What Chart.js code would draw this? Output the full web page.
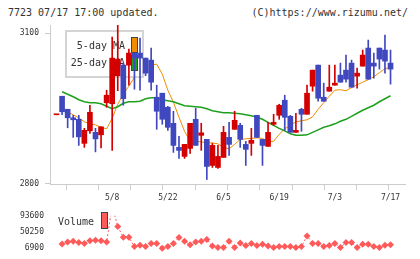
<!DOCTYPE html>
<html>
<head>
<meta charset="utf-8">
<script src="https://cdn.jsdelivr.net/npm/chart.js@4"></script>
<style>
body{margin:0;background:#fff}
#wrap{position:relative;width:420px;height:259px;overflow:hidden;background:#fff;font-family:"DejaVu Sans Mono",monospace;color:#333}
.hdr{position:absolute;top:7px;font-size:10px;line-height:11px;white-space:pre}
canvas{position:absolute;left:0}
</style>
</head>
<body>
<div id="wrap">
<div class="hdr" style="left:8px">7723 07/17 17:00 updated.</div>
<div class="hdr" style="right:12px">(C)https://www.rizumu.net/</div>
<canvas id="main" width="420" height="205" style="top:0"></canvas>
<canvas id="vol" width="420" height="54" style="top:205px"></canvas>
</div>
<script>
// trading days
var dates=['4/21','4/22','4/23','4/24','4/25','4/28','4/30','5/1','5/2','5/7',
 '5/8','5/9','5/12','5/13','5/14','5/15','5/16','5/19','5/20','5/21',
 '5/22','5/23','5/26','5/27','5/28','5/29','5/30','6/2','6/3','6/4',
 '6/5','6/6','6/9','6/10','6/11','6/12','6/13','6/16','6/17','6/18',
 '6/19','6/20','6/23','6/24','6/25','6/26','6/27','6/30','7/1','7/2',
 '7/3','7/4','7/7','7/8','7/9','7/10','7/11','7/14','7/15','7/16','7/17'];

var open =[2937,2974,2948,2931,2928,2880,2905,2902,2897,2961,2959,3015,3036,3036,3060,3060,3050,3046,2972,2980,
 2952,2920,2872,2854,2870,2928,2896,2888,2836,2832,2852,2892,2908,2916,2878,2880,2936,2888,2874,2918,
 2936,2966,2934,2902,2948,2938,2994,3036,2972,2984,2996,3016,3026,3040,3014,3034,3070,3040,3070,3066,3040];
var high =[2937,2974,2948,2936,2936,2910,2956,2910,2913,2986,3092,3120,3040,3068,3060,3090,3050,3070,2996,2980,
 2954,2944,2894,2878,2920,2950,2920,2888,2880,2876,2914,2922,2944,2920,2884,2910,2936,2888,2922,2938,
 2958,2976,2936,2940,2950,2996,3026,3036,3000,3036,3036,3040,3056,3046,3030,3066,3086,3060,3070,3096,3066];
var low  =[2937,2937,2911,2892,2876,2872,2900,2863,2871,2952,2866,2985,2956,2996,2988,2986,3015,2986,2908,2918,
 2906,2862,2850,2850,2860,2876,2866,2808,2832,2830,2852,2856,2908,2872,2836,2856,2892,2836,2874,2916,
 2928,2906,2902,2902,2904,2938,2984,2964,2964,2984,2996,3002,3002,2992,2990,3034,3008,3010,3028,3020,2998];
var close=[2937,2943,2931,2927,2893,2906,2942,2889,2913,2976,3050,3048,2969,3060,3050,3050,3020,3002,2944,2928,
 2912,2876,2866,2878,2920,2876,2901,2834,2876,2854,2902,2878,2926,2888,2868,2886,2892,2876,2902,2922,
 2956,2932,2902,2906,2938,2980,3026,2970,2964,2992,3000,3002,3008,2992,3020,3056,3008,3034,3048,3044,3028];

var ma5=[null,2947,2943,2937,2931,2923,2919,2917,2912,2909,2930,2958,2978,2994,3012,3026,3032,3036,3038,3018,2986,
 2962,2932,2904,2885,2884,2883,2881,2881,2879,2872,2869,2878,2888,2889,2890,2891,2890,2884,2884,2898,
 2909,2916,2923,2925,2927,2933,2948,2961,2974,2986,2987,2985,2991,2997,3002,3007,3013,3021,3029,3031];
var ma25=[null,2983,2978,2973,2967,2963,2961,2961,2959,2954,2949,2953,2960,2963,2963,2964,2969,2971,2971,2967,2965,
 2963,2959,2955,2954,2953,2952,2949,2945,2943,2941,2941,2940,2939,2937,2935,2932,2928,2922,2916,2910,
 2905,2899,2896,2896,2897,2902,2907,2912,2915,2919,2924,2928,2934,2940,2946,2951,2956,2963,2969,2975];

var volume=[null,18300,23200,25400,22000,19800,26900,28400,26900,23200,120000,65000,36200,36200,11200,14600,11200,19800,19800,6900,
 11200,19800,35500,25400,16100,23200,25400,30500,12500,9000,9000,25400,9000,21100,14000,19800,14000,17700,12500,9000,
 11200,11200,11200,9000,11200,39800,19800,19800,11200,14000,19800,9000,22000,22000,9000,17700,17700,11200,9000,14600,16100];

var priceTicks=[2800,3100];
var volTicks=[6900,50250,93600];
var dateTicks=[10,20,30,40,50,60];

var RED='#d40000', BLUE='#4048c0', ORANGE='#f08c00', GREEN='#1ea01e', PINK='#ff5a5a';
var xmin=-1.17, xmax=62.6;

Chart.defaults.font.family='"DejaVu Sans Mono", monospace';
Chart.defaults.color='#333';

var candleColors=open.map(function(o,i){ return close[i]>=o ? RED : BLUE; });
var wickData=dates.map(function(d,i){ return {x:i, y:[low[i],high[i]]}; });
var bodyData=dates.map(function(d,i){ return {x:i, y:[Math.min(open[i],close[i]),Math.max(open[i],close[i])]}; });

// legend box sits between the MA lines and the candles
var legendBox={
  id:'legendBox',
  beforeDatasetDraw:function(chart,args){
    if(args.meta.label!=='wick') return;
    var ctx=chart.ctx;
    ctx.save();
    ctx.fillStyle='#fff';
    ctx.fillRect(65,30,78,47);
    ctx.strokeStyle='#d4d4d4';
    ctx.lineWidth=2;
    ctx.strokeRect(66,31,77,46);
    ctx.font='10px "DejaVu Sans Mono"';
    ctx.fillStyle='#333';
    ctx.textAlign='right';
    ctx.textBaseline='middle';
    ctx.fillText('5-day MA',125,46);
    ctx.fillText('25-day MA',125,63);
    ctx.lineWidth=1;
    ctx.strokeStyle='#444';
    ctx.fillStyle=ORANGE;
    ctx.fillRect(132,37,5,16); ctx.strokeRect(131.5,37.5,6,15);
    ctx.fillStyle=GREEN;
    ctx.fillRect(132,55,5,15); ctx.strokeRect(131.5,55.5,6,15);
    ctx.restore();
  }
};

new Chart(document.getElementById('main'),{
  type:'bar',
  data:{datasets:[
    {label:'5-day MA',type:'line',data:ma5.map(function(v,i){return {x:i,y:v};}),borderColor:ORANGE,borderWidth:1,pointRadius:0,tension:0,order:3},
    {label:'25-day MA',type:'line',data:ma25.map(function(v,i){return {x:i,y:v};}),borderColor:GREEN,borderWidth:1.5,pointRadius:0,tension:0,order:2},
    {label:'wick',data:wickData,backgroundColor:candleColors,barThickness:1,grouped:false,order:1},
    {label:'body',data:bodyData,backgroundColor:candleColors,barThickness:5,minBarLength:1,grouped:false,order:0}
  ]},
  options:{
    responsive:false,animation:false,devicePixelRatio:1,
    layout:{padding:{top:25,right:15,left:0,bottom:0}},
    plugins:{legend:{display:false},tooltip:{enabled:false}},
    scales:{
      x:{type:'linear',min:xmin,max:xmax,offset:false,weight:1,
        grid:{display:false,drawTicks:false},border:{display:false},
        ticks:{font:{size:8},padding:3,maxRotation:0,autoSkip:false,callback:function(v){return dates[v];}},
        afterBuildTicks:function(s){ s.ticks=dateTicks.map(function(v){return {value:v};}); },
        afterFit:function(s){ s.height=15; }},
      xg:{type:'linear',axis:'x',position:'bottom',min:0,max:11,offset:false,weight:0,
        ticks:{display:false,stepSize:1},
        grid:{drawOnChartArea:false,tickLength:6,color:'#ccc'},
        border:{color:'#ccc'},
        afterFit:function(s){ s.height=6; }},
      y:{min:2799,max:3116,
        afterBuildTicks:function(s){ s.ticks=priceTicks.map(function(v){return {value:v};}); },
        ticks:{font:{size:8},padding:6,callback:function(v){return String(v);}},
        grid:{drawOnChartArea:false,tickLength:5,color:'#ccc'},
        border:{color:'#ccc'},
        afterFit:function(s){ s.width=50; }}
    }
  },
  plugins:[legendBox]
});

var volLegend={
  id:'volLegend',
  afterDraw:function(chart){
    var ctx=chart.ctx;
    ctx.save();
    ctx.font='10px "DejaVu Sans Mono"';
    ctx.fillStyle='#333';
    ctx.textAlign='left';
    ctx.textBaseline='middle';
    ctx.fillText('Volume',58,17.5);
    ctx.fillStyle=PINK;
    ctx.fillRect(102,8,5,15);
    ctx.strokeStyle='#444';
    ctx.lineWidth=1;
    ctx.strokeRect(101.5,7.5,6,16);
    ctx.restore();
  }
};

new Chart(document.getElementById('vol'),{
  type:'line',
  data:{datasets:[
    {label:'Volume',data:volume.map(function(v,i){return {x:i,y:v};}),borderColor:PINK,borderWidth:1,borderDash:[2,2],
     pointStyle:'rectRot',pointRadius:3.5,pointBackgroundColor:PINK,pointBorderWidth:0,tension:0,
     clip:{left:8,right:8,top:0,bottom:8}}
  ]},
  options:{
    responsive:false,animation:false,devicePixelRatio:1,
    layout:{padding:{top:4,right:15,left:0,bottom:9.7}},
    plugins:{legend:{display:false},tooltip:{enabled:false}},
    scales:{
      x:{type:'linear',min:xmin,max:xmax,offset:false,display:false},
      y:{min:6900,max:93600,
        afterBuildTicks:function(s){ s.ticks=volTicks.map(function(v){return {value:v};}); },
        ticks:{font:{size:8},padding:6,callback:function(v){return String(v);}},
        grid:{display:false,drawTicks:false},border:{display:false},
        afterFit:function(s){ s.width=50; }}
    }
  },
  plugins:[volLegend]
});
</script>
</body>
</html>
